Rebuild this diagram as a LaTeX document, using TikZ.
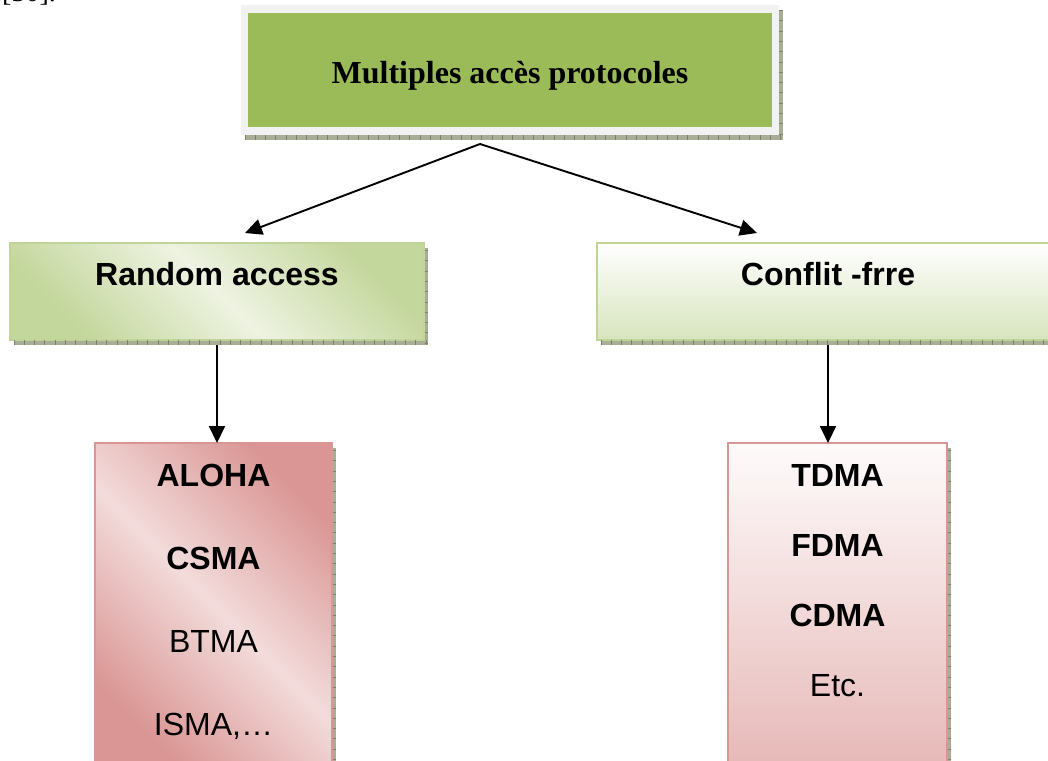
\documentclass[tikz,border=0pt]{standalone}
\usepackage{fontspec}
\setmainfont{Liberation Serif}
\newfontfamily\arialfont{Liberation Sans}[Ligatures=NoCommon]
\usetikzlibrary{arrows.meta,calc,shadows}

\definecolor{topgreen}{HTML}{9BBB59}
\definecolor{framegray}{HTML}{F2F2F2}
\definecolor{shadowtone}{HTML}{A8AD96}
\definecolor{shadowtick}{HTML}{7C8170}
\definecolor{greendark}{HTML}{C3D69B}
\definecolor{greenlight}{HTML}{EEF3E2}
\definecolor{greenbottom}{HTML}{D7E4BD}
\definecolor{greenborder}{HTML}{C0D497}
\definecolor{pinkdark}{HTML}{D99694}
\definecolor{pinklight}{HTML}{F2DCDB}
\definecolor{pinktop}{HTML}{FEFBFB}
\definecolor{pinkbottom}{HTML}{E6B9B8}
\definecolor{pinkborder}{HTML}{D99694}

\tikzset{
  boxshadow/.style={general shadow={fill=shadowtone, shadow xshift=3.5pt, shadow yshift=-5pt}},
  tickrow/.style={draw=shadowtick, line width=4.5pt, dash pattern=on 0.8pt off 9.5pt},
  tickcol/.style={draw=shadowtick, line width=3.5pt, dash pattern=on 0.8pt off 9.5pt},
  plainbox/.style={rectangle, inner sep=0pt, outer sep=0pt},
  greenbox/.style={plainbox, boxshadow, draw=greenborder, line width=1.5pt},
  pinkbox/.style={plainbox, boxshadow, draw=pinkborder, line width=1.5pt},
  sansplain/.style={anchor=base, inner sep=0pt, font=\arialfont\fontsize{32}{38}\selectfont},
  sansbold/.style={anchor=base, inner sep=0pt, font=\arialfont\bfseries\fontsize{32}{38}\selectfont},
  link/.style={draw=black, line width=1.9pt, -{Triangle[length=17pt 0,width=16pt 0]}},
}

\begin{document}
\begin{tikzpicture}[x=1pt,y=-1pt]
\useasboundingbox (0,0) rectangle (1048,760);
\clip (0,0) rectangle (1048,760);

% citation fragment running off the top edge
\node[anchor=base west, inner sep=0pt, font=\fontsize{28}{32}\selectfont] (cite) at (2,2) {[30].};

% root box: grey frame around a green panel
\node[plainbox, boxshadow, fill=framegray, minimum width=538pt, minimum height=130pt] (topframe) at (510,70) {};
\draw[tickrow] ($(topframe.south west)+(3.5,2.5)$) -- ($(topframe.south east)+(3.5,2.5)$);
\draw[tickcol] ($(topframe.north east)+(1.75,5)$) -- ($(topframe.south east)+(1.75,5)$);
\node[plainbox, fill=topgreen, minimum width=524pt, minimum height=114pt] (top) at (topframe.center) {};
\node[anchor=base, inner sep=0pt, font=\bfseries\fontsize{32}{38}\selectfont] (toptext) at ($(top.north)+(0,70)$) {Multiples accès protocoles};

% second level
\node[greenbox, left color=greendark, right color=greendark, middle color=greenlight, shading angle=-45,
      minimum width=414pt, minimum height=97pt] (ra) at (217,291.5) {};
\draw[tickrow] ($(ra.south west)+(3.5,2.5)$) -- ($(ra.south east)+(3.5,2.5)$);
\draw[tickcol] ($(ra.north east)+(2.5,7)$) -- ($(ra.south east)+(2.5,5)$);
\node[sansbold] (ratext) at ($(ra.north)+(0,42)$) {Random access};

\node[greenbox, top color=white, bottom color=greenbottom,
      minimum width=462pt, minimum height=97pt] (cf) at (828,291.5) {};
\draw[tickrow] ($(cf.south west)+(3.5,2.5)$) -- ($(cf.south east)+(3.5,2.5)$);
\node[sansbold] (cftext) at ($(cf.north)+(0,42)$) {Conflit -frre};

% third level
\node[pinkbox, left color=pinkdark, right color=pinkdark, middle color=pinklight, shading angle=-45,
      minimum width=237pt, minimum height=322pt] (al) at (213.5,604) {};
\draw[tickcol] ($(al.north east)+(2.5,7)$) -- ($(al.south east)+(2.5,5)$);
\node[sansbold]  (aloha) at ($(al.north)+(0,43)$)  {ALOHA};
\node[sansbold]  (csma)  at ($(al.north)+(0,126)$) {CSMA};
\node[sansplain] (btma)  at ($(al.north)+(0,209)$) {BTMA};
\node[sansplain] (isma)  at ($(al.north)+(0,292)$) {ISMA,…};

\node[pinkbox, top color=pinktop, bottom color=pinkbottom,
      minimum width=219pt, minimum height=322pt] (td) at (837.5,604) {};
\draw[tickcol] ($(td.north east)+(2.5,7)$) -- ($(td.south east)+(2.5,5)$);
\node[sansbold]  (tdma) at ($(td.north)+(0,43)$)  {TDMA};
\node[sansbold]  (fdma) at ($(td.north)+(0,113)$) {FDMA};
\node[sansbold]  (cdma) at ($(td.north)+(0,183)$) {CDMA};
\node[sansplain] (etc)  at ($(td.north)+(0,253)$) {Etc.};

% connectors
\coordinate (apex) at ($(topframe.south)+(-30,9)$);
\coordinate (tipL) at ($(ra.north)+(28,-10)$);
\coordinate (tipR) at ($(cf.north)+(-71,-10)$);
\draw[link] (apex) -- (tipL);
\draw[link] (apex) -- (tipR);
\draw[link] ([yshift=-5pt]ra.south) -- (ra.south |- al.north);
\draw[link] ([yshift=-5pt]cf.south) -- (cf.south |- td.north);
\end{tikzpicture}
\end{document}
